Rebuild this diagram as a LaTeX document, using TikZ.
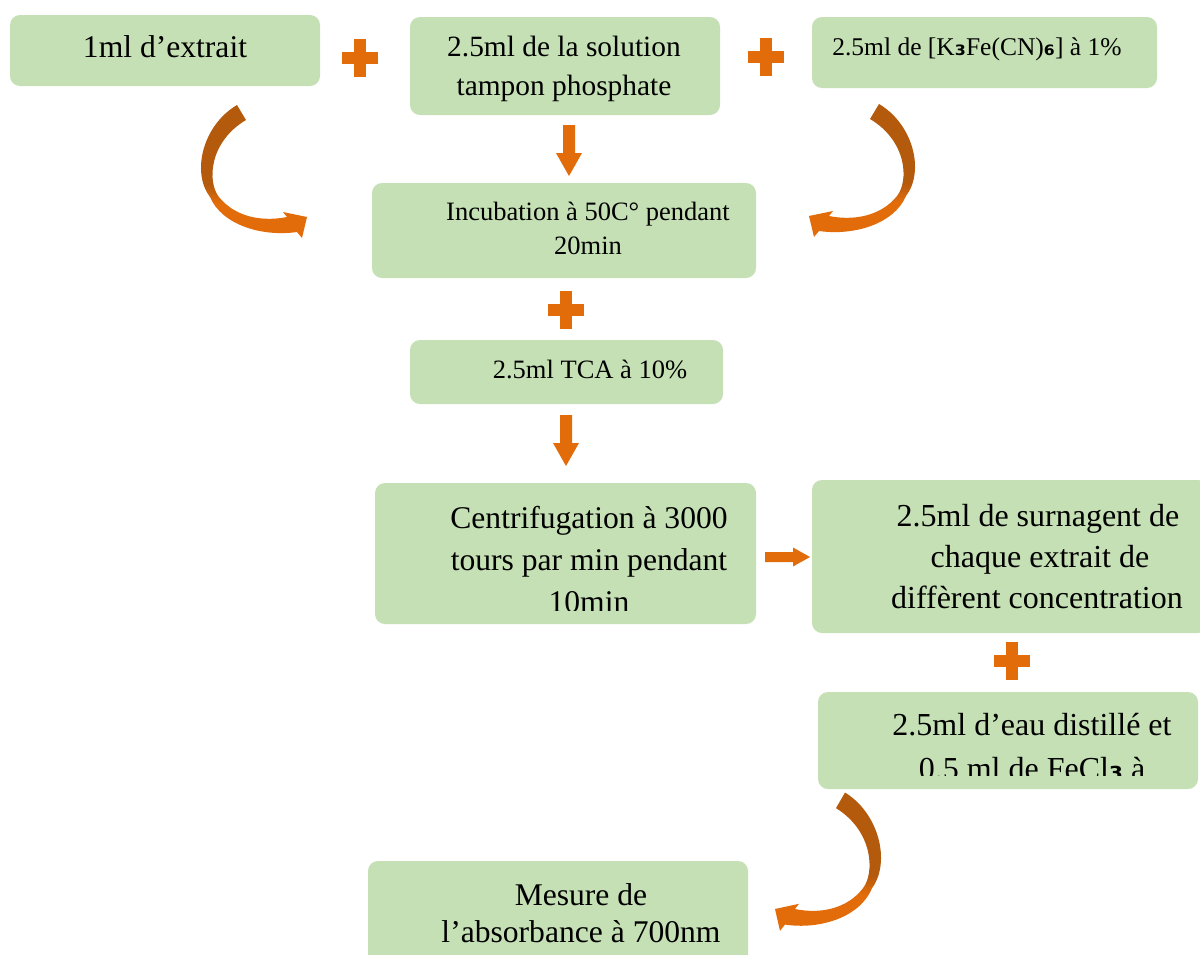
\documentclass[tikz,border=0pt]{standalone}
\usepackage{fontspec}
\setmainfont{Liberation Serif}
\newfontfamily\subfont{DejaVu Sans}

\definecolor{boxgreen}{HTML}{C5E0B4}
\definecolor{flow}{HTML}{E36C0A}
\definecolor{flowdark}{HTML}{B45A0C}

% orange at the arrow head, dark brown towards the tail
\pgfdeclareverticalshading{bendshade}{100bp}{color(0bp)=(flow); color(38bp)=(flow); color(45bp)=(flowdark); color(100bp)=(flowdark)}

\newcommand{\subdigit}[1]{{\subfont\bfseries #1}}

\tikzset{
  gbox/.style={fill=boxgreen, rounded corners=10pt, inner sep=0pt, draw=none},
  txt/.style={anchor=base, inner sep=0pt, text=black},
  fbig/.style={font=\fontsize{31.6}{37}\selectfont},
  fbigger/.style={font=\fontsize{32}{38}\selectfont},
  fmid/.style={font=\fontsize{29.4}{34}\selectfont},
  fsmall/.style={font=\fontsize{26.5}{31}\selectfont},
  plussign/.pic={
    \fill[flow] (-6,-19) rectangle (6,19);
    \fill[flow] (-18,-6) rectangle (18,6);
  },
  downarrow/.pic={
    \fill[flow] (-6,0) -- (6,0) -- (6,28) -- (13,28) -- (0,51) -- (-13,28) -- (-6,28) -- cycle;
  },
  rightarrow/.pic={
    \fill[flow] (0,-5) -- (28,-5) -- (28,-9.5) -- (45,0) -- (28,9.5) -- (28,5) -- (0,5) -- cycle;
  },
  % curved block arrow, head tip at the origin
  bendarrow/.pic={
    \shade[shading=bendshade]
      (-70,-112) .. controls (-104,-92) and (-116,-45) .. (-97,-20)
      .. controls (-85,8) and (-45,20) .. (-10,15)
      -- (-5,21) -- (0,0) -- (-24,-5) -- (-20,0)
      .. controls (-45,5) and (-72,0) .. (-88,-20)
      .. controls (-100,-35) and (-98,-75) .. (-61,-97) -- cycle;
  }
}

\begin{document}
\begin{tikzpicture}[x=1pt, y=-1pt]
  \clip (0,0) rectangle (1200,954);
  \fill[white] (0,0) rectangle (1200,954);

  % boxes
  \node[gbox, minimum width=310pt, minimum height=71pt]  (extrait)  at (165,50.5) {};
  \node[gbox, minimum width=310pt, minimum height=98pt]  (tampon)   at (565,66) {};
  \node[gbox, minimum width=345pt, minimum height=71pt]  (ferri)    at (984.5,52.5) {};
  \node[gbox, minimum width=384pt, minimum height=95pt]  (incub)    at (564,230.5) {};
  \node[gbox, minimum width=313pt, minimum height=64pt]  (tca)      at (566.5,372) {};
  \node[gbox, minimum width=381pt, minimum height=141pt] (centri)   at (565.5,553.5) {};
  \node[gbox, minimum width=396pt, minimum height=153pt] (surnag)   at (1010,556.5) {};
  \node[gbox, minimum width=380pt, minimum height=97pt]  (eau)      at (1008,740.5) {};
  \node[gbox, minimum width=380pt, minimum height=109pt] (mesure)   at (558,915.5) {};

  % texts
  \node[txt, fbig] (t1) at (165,57) {1ml d’extrait};

  \node[txt, fmid] (t2a) at (564,56) {2.5ml de la solution};
  \node[txt, fmid] (t2b) at (564,95) {tampon phosphate};

  \node[txt, font=\fontsize{25.5}{30}\selectfont] (t3) at (977,55)
    {2.5ml de [K\subdigit{₃}Fe(CN)\subdigit{₆}] à 1\%};

  \node[txt, fsmall] (t4a) at (588,220) {Incubation à 50C° pendant};
  \node[txt, fsmall] (t4b) at (588,254) {20min};

  \node[txt, fsmall] (t5) at (590,378) {2.5ml TCA à 10\%};

  \begin{scope}
    \clip (375,483) rectangle (756,610);
    \node[txt, fbig] (t6a) at (589,528) {Centrifugation à 3000};
    \node[txt, fbig] (t6b) at (589,570) {tours par min pendant};
    \node[txt, fbig] (t6c) at (589,612) {10min};
  \end{scope}

  \node[txt, fbigger] (t7a) at (1038,526) {2.5ml de surnagent de};
  \node[txt, fbigger] (t7b) at (1040,567) {chaque extrait de};
  \node[txt, fbigger] (t7c) at (1037,608) {diffèrent concentration};

  \begin{scope}
    \clip (818,692) rectangle (1198,775);
    \node[txt, fbigger] (t8a) at (1032,735) {2.5ml d’eau distillé et};
    \node[txt, fbigger] (t8b) at (1032,779) {0.5 ml de FeCl\subdigit{₃} à};
  \end{scope}

  \node[txt, fbig] (t9a) at (581,905) {Mesure de};
  \node[txt, fbig] (t9b) at (581,942) {l’absorbance à 700nm};

  % plus signs
  \pic at (360,58)   {plussign};
  \pic at (766,57)   {plussign};
  \pic at (566,310)  {plussign};
  \pic at (1012,661) {plussign};

  % straight arrows
  \pic at (569,125) {downarrow};
  \pic at (566,415) {downarrow};
  \pic at (765,557) {rightarrow};

  % curved arrows
  \pic at (307,217) {bendarrow};
  \pic[xscale=-1] at (809,216) {bendarrow};
  \pic[xscale=-1, yscale=1.04] at (775,909) {bendarrow};
\end{tikzpicture}
\end{document}
